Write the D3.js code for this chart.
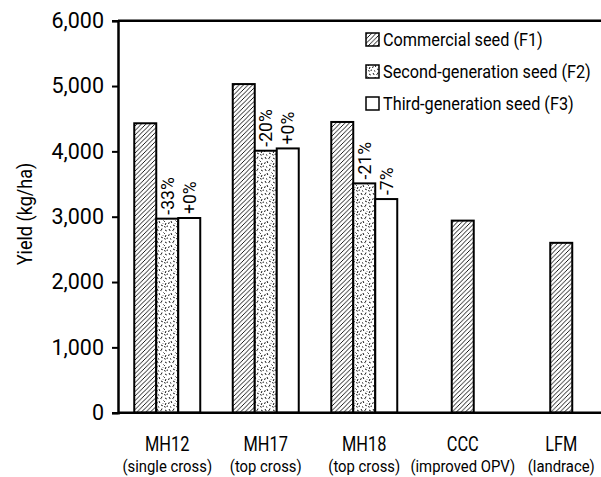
<!DOCTYPE html>
<html><head><meta charset="utf-8">
<script src="https://cdn.jsdelivr.net/npm/d3@7"></script>
<style>
body{margin:0;background:#fff;}
text{font-family:Roboto,"Liberation Sans",sans-serif;fill:#000;font-weight:400;}
</style></head>
<body><svg id="c" width="601" height="477"></svg>
<script>
const categories = ["MH12","MH17","MH18","CCC","LFM"];
const subLabels = ["(single cross)","(top cross)","(top cross)","(improved OPV)","(landrace)"];
const seriesNames = ["Commercial seed (F1)","Second-generation seed (F2)","Third-generation seed (F3)"];
const f1 = [4430, 5030, 4450, 2940, 2600];
const f2 = [2970, 4010, 3510, null, null];
const f3 = [2980, 4045, 3270, null, null];
const f2Labels = ["-33%","-20%","-21%", null, null];
const f3Labels = ["+0%","+0%","-7%", null, null];
const yTicks = [0,1000,2000,3000,4000,5000,6000];

const svg = d3.select("#c");
const mLeft = 118, mTop = 20.7, mBottom = 412.7;
const x0 = d3.scaleBand().domain(categories).range([mLeft, 610.5]).paddingInner(0.33).paddingOuter(0.165);
const x1 = d3.scaleBand().domain([0,1,2]).range([0, x0.bandwidth()]);
const y = d3.scaleLinear().domain([0,6000]).range([mBottom, mTop]);

function txt(x, yy, s, size, sx, anchor, rot, dy){
  const g = svg.append("g").attr("transform",`translate(${x},${yy}) rotate(${rot||0}) scale(${sx},1)`);
  return g.append("text").attr("text-anchor",anchor||"start").attr("font-size",size)
    .attr("dy",dy||0).text(s);
}

const defs = svg.append("defs");
const hatch = defs.append("pattern").attr("id","hatch").attr("patternUnits","userSpaceOnUse")
  .attr("width",4.5).attr("height",4.5);
hatch.append("rect").attr("width",4.5).attr("height",4.5).attr("fill","#fff");
hatch.append("path").attr("d","M-1,5.5 L5.5,-1 M-1,1 L1,-1 M3.5,5.5 L5.5,3.5").attr("stroke","#000").attr("stroke-width",0.9);

const dots = defs.append("pattern").attr("id","dots").attr("patternUnits","userSpaceOnUse")
  .attr("width",12).attr("height",12);
dots.append("rect").attr("width",12).attr("height",12).attr("fill","#fff");
dots.append("path").attr("d",
  "M1,1 l1.2,2 M6,0.5 l-0.8,2 M9,2 l1.8,1 M3,5 l0.8,2 M7.5,4.5 l1.3,1.3 M0.5,8 l0.8,-1.8 M10,7 l-0.8,2 M5,9 l1.8,0.8 M2,10.5 l1.3,1 M8.5,10 l0.8,1.6 M11,11 l0.4,-1.4 M4.5,2.5 l0.6,0.6 M6.5,7 l0.5,0.5")
  .attr("stroke","#000").attr("stroke-width",0.9).attr("fill","none");

const fills = ["url(#hatch)","url(#dots)","#fff"];

const series = [f1,f2,f3];
categories.forEach((c,i)=>{
  const single = f2[i] === null;
  series.forEach((s,k)=>{
    const v = s[i];
    if(v===null) return;
    const slot = single ? 1 : k;
    svg.append("rect")
      .attr("x", x0(c)+x1(slot))
      .attr("y", y(v))
      .attr("width", x1.bandwidth())
      .attr("height", y(0)-y(v))
      .attr("fill", fills[k]).attr("stroke","#000").attr("stroke-width",2);
  });
  [[f2Labels,1,f2],[f3Labels,2,f3]].forEach(([labs,k,vals])=>{
    if(labs[i]===null) return;
    const cx = x0(c)+x1(k)+x1.bandwidth()/2;
    const cy = y(vals[i]) - 4;
    txt(cx, cy, labs[i], 18.5, 0.95, "start", -90, "0.36em");
  });
});

svg.append("line").attr("x1",mLeft).attr("x2",601).attr("y1",mTop).attr("y2",mTop).attr("stroke","#000").attr("stroke-width",2.5);
svg.append("line").attr("x1",mLeft).attr("x2",601).attr("y1",mBottom).attr("y2",mBottom).attr("stroke","#000").attr("stroke-width",2.5);

const yAxis = svg.append("g").attr("transform",`translate(${mLeft},0)`)
  .call(d3.axisLeft(y).tickValues(yTicks).tickFormat(d3.format(",")).tickSize(6).tickPadding(8));
yAxis.attr("font-family",null).attr("font-size",null);
yAxis.select(".domain").attr("stroke-width",2.5);
yAxis.selectAll(".tick line").attr("stroke-width",2);
yAxis.selectAll("text").attr("font-size",21.5);

txt(32, 214, "Yield (kg/ha)", 21, 0.86, "middle", -90);

categories.forEach((c,i)=>{
  const cx = x0(c)+x0.bandwidth()/2;
  txt(cx, 451, c, 20, 0.82, "middle");
  txt(cx, 472, subLabels[i], 16.5, 0.9, "middle");
});

seriesNames.forEach((n,k)=>{
  const ly = 33 + k*32;
  svg.append("rect").attr("x",366).attr("y",ly).attr("width",13).attr("height",13)
    .attr("fill",fills[k]).attr("stroke","#000").attr("stroke-width",1.5);
  txt(383, ly+7, n, 17.5, 0.93, "start", 0, "0.36em");
});
</script></body></html>
